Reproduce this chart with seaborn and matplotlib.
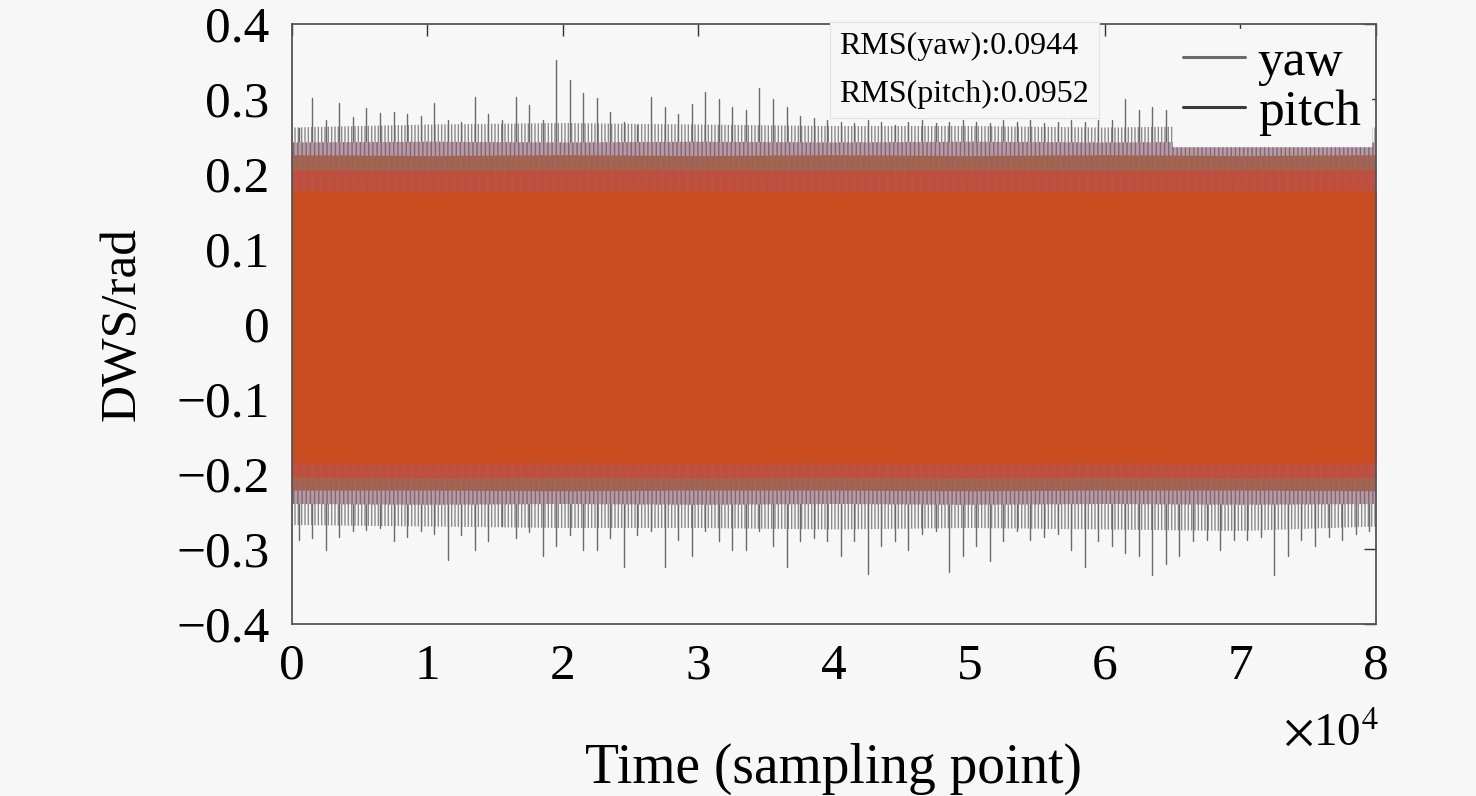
import numpy as np
import pandas as pd
import matplotlib
matplotlib.use("Agg")
import matplotlib.pyplot as plt
from matplotlib.lines import Line2D
import seaborn as sns

# peak excursions of the yaw signal, one value per 1000 sampling points
yaw_top = [0.261, 0.301, 0.272, 0.295, 0.276, 0.288, 0.281, 0.283, 0.280, 0.278,
           0.295, 0.272, 0.270, 0.303, 0.280, 0.272, 0.303, 0.292, 0.272, 0.352,
           0.325, 0.308, 0.301, 0.283, 0.270, 0.265, 0.303, 0.290, 0.280, 0.294,
           0.310, 0.300, 0.290, 0.285, 0.315, 0.300, 0.290, 0.278, 0.275, 0.272,
           0.270, 0.268, 0.272, 0.270, 0.266, 0.270, 0.272, 0.268, 0.270, 0.272,
           0.270, 0.268, 0.272, 0.270, 0.272, 0.268, 0.270, 0.272, 0.270, 0.272,
           0.272, 0.300, 0.285, 0.290, 0.285, 0.280, 0.270, 0.272, 0.268, 0.270,
           0.272, 0.268, 0.270, 0.268, 0.272, 0.270, 0.268, 0.270, 0.268, 0.262]
yaw_bot = [-0.288, -0.285, -0.301, -0.284, -0.276, -0.275, -0.272, -0.290, -0.284, -0.276,
           -0.280, -0.315, -0.282, -0.301, -0.290, -0.270, -0.285, -0.277, -0.310, -0.296,
           -0.282, -0.301, -0.301, -0.285, -0.324, -0.282, -0.276, -0.324, -0.288, -0.310,
           -0.276, -0.290, -0.301, -0.301, -0.276, -0.296, -0.324, -0.290, -0.285, -0.290,
           -0.310, -0.290, -0.333, -0.296, -0.290, -0.301, -0.280, -0.276, -0.331, -0.310,
           -0.296, -0.316, -0.290, -0.276, -0.288, -0.284, -0.280, -0.301, -0.324, -0.290,
           -0.296, -0.305, -0.310, -0.335, -0.320, -0.310, -0.290, -0.288, -0.301, -0.288,
           -0.288, -0.284, -0.335, -0.310, -0.288, -0.296, -0.284, -0.288, -0.280, -0.276]

# band levels every 10^4 samples
knots = [0, 10000, 20000, 30000, 40000, 50000, 60000, 70000, 80000]
pitch_core_top = [0.178, 0.176, 0.177, 0.178, 0.176, 0.177, 0.176, 0.177, 0.178]
pitch_core_bot = [-0.185, -0.186, -0.185, -0.186, -0.185, -0.186, -0.185, -0.186, -0.185]
pitch_edge_top = [0.205, 0.204, 0.205, 0.205, 0.204, 0.205, 0.204, 0.205, 0.205]
pitch_edge_bot = [-0.205, -0.206, -0.205, -0.206, -0.205, -0.206, -0.205, -0.206, -0.205]
mix_top = [0.225, 0.224, 0.225, 0.224, 0.225, 0.224, 0.225, 0.224, 0.225]
mix_bot = [-0.222, -0.222, -0.223, -0.222, -0.222, -0.223, -0.222, -0.222, -0.223]
dense_top = [0.242, 0.243, 0.242, 0.243, 0.242, 0.243, 0.242, 0.243, 0.242]
dense_bot = [-0.240, -0.241, -0.240, -0.241, -0.240, -0.241, -0.240, -0.241, -0.240]
fringe_top = [0.262, 0.266, 0.268, 0.266, 0.264, 0.264, 0.262, 0.264, 0.262]
fringe_bot = [-0.268, -0.270, -0.272, -0.272, -0.274, -0.272, -0.274, -0.276, -0.270]

rms_yaw = 0.0944
rms_pitch = 0.0952
xticks = [0, 1, 2, 3, 4, 5, 6, 7, 8]
yticks = [-0.4, -0.3, -0.2, -0.1, 0, 0.1, 0.2, 0.3, 0.4]

bg = "#f7f7f7"
sns.set_theme(style="white")
plt.rcParams["font.family"] = ["Liberation Serif", "DejaVu Serif"]
plt.rcParams["mathtext.fontset"] = "stix"
plt.rcParams["text.color"] = "black"
plt.rcParams["axes.labelcolor"] = "black"
plt.rcParams["hatch.linewidth"] = 1.0

fig = plt.figure(figsize=(14.76, 7.96), dpi=100, facecolor=bg)
ax = fig.add_axes([0.1978, 0.2161, 0.7344, 0.7537], facecolor=bg)

n = len(yaw_top)
centers = 500 + 1000 * np.arange(n)
# vertical strokes from the band out to each peak
spike_lines = pd.DataFrame({
    "x": np.concatenate([centers, centers, centers, centers]),
    "v": np.concatenate([yaw_top, np.zeros(n), np.zeros(n), yaw_bot]),
    "id": np.concatenate([np.arange(n), np.arange(n), np.arange(n) + n, np.arange(n) + n]),
})

# layered bands, outermost first
ax.fill_between(knots, fringe_top, fringe_bot, facecolor=bg, edgecolor="#8a8a8a",
                hatch="|||||", lw=0, zorder=0.5)
sns.lineplot(data=spike_lines, x="x", y="v", units="id", estimator=None, sort=False,
             color="#6a6a6a", lw=1.0, legend=False, ax=ax, zorder=0.8)
ax.fill_between(knots, dense_top, dense_bot, facecolor="#b99aa6", edgecolor="#7c6a70",
                hatch="||||", lw=0, zorder=1.0)
ax.fill_between(knots, mix_top, mix_bot, facecolor="#a86250", edgecolor="#8c6a5a",
                hatch="|||", lw=0, zorder=1.1)
ax.fill_between(knots, pitch_edge_top, pitch_edge_bot, facecolor="#bc5040",
                edgecolor="#c8503c", hatch="||", lw=0, zorder=1.2)
ax.fill_between(knots, pitch_core_top, pitch_core_bot, color="#c84c1f", lw=0, zorder=1.3)

ax.set_xlim(0, 80000)
ax.set_ylim(-0.4, 0.4)
ax.set_xticks([t * 10000 for t in xticks])
ax.set_xticklabels([str(t) for t in xticks])
ax.set_yticks(yticks)
ax.set_yticklabels(["\u2212" + f"{abs(t):g}" if t < 0 else f"{t:g}" for t in yticks])
ax.tick_params(axis="both", which="both", direction="in", length=8.5, width=1.0,
               color="#333333", top=True, right=True, labelsize=37, labelcolor="black")
ax.tick_params(axis="y", pad=16)
ax.tick_params(axis="x", pad=14)
for s in ax.spines.values():
    s.set_color("#555555")
    s.set_linewidth(1.3)
    s.set_zorder(3)

ax.set_xlabel("Time (sampling point)", fontsize=40, labelpad=38)
ax.set_ylabel("DWS/rad", fontsize=37, labelpad=22)
ax.text(1.003, -0.183, r"$\times$10$^{4}$", transform=ax.transAxes, ha="right",
        va="center", fontsize=34)

ax.text(0.505, 0.923, f"RMS(yaw):{rms_yaw}\nRMS(pitch):{rms_pitch}",
        transform=ax.transAxes, ha="left", va="center", fontsize=23, linespacing=1.85,
        zorder=4,
        bbox=dict(boxstyle="square,pad=0.3", facecolor=bg, edgecolor="#e2e2e2", lw=0.8))

handles = [Line2D([], [], color="#6a6a6a", lw=2.2),
           Line2D([], [], color="#3a3a3a", lw=2.2)]
leg = ax.legend(handles, ["yaw", "pitch"], loc="upper right", fontsize=37,
                frameon=True, fancybox=False, facecolor=bg, edgecolor=bg, framealpha=1,
                handlelength=1.2, handletextpad=0.25, labelspacing=0.05,
                borderaxespad=0.1, borderpad=0.2)
leg.set_zorder(5)

fig.savefig("out.png", dpi=100, facecolor=bg)
